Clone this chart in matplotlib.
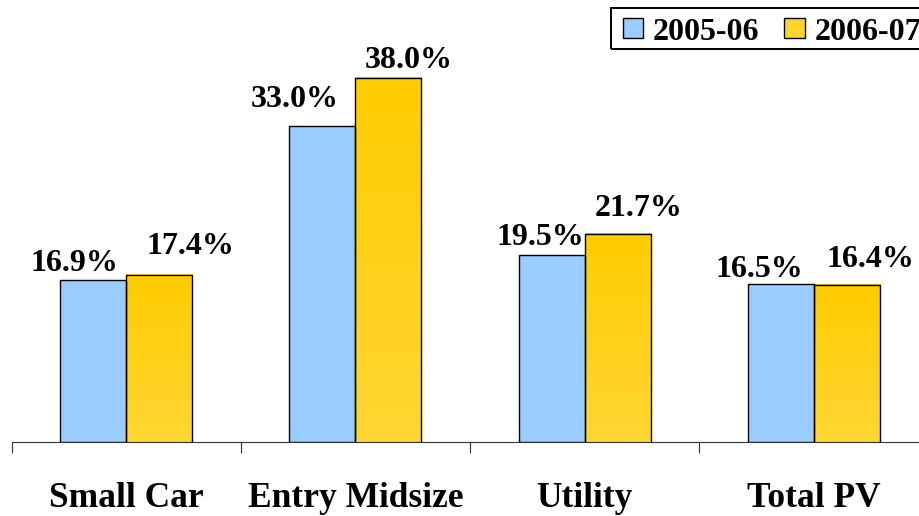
import numpy as np
import matplotlib
matplotlib.use('Agg')
import matplotlib.pyplot as plt
from matplotlib.colors import LinearSegmentedColormap
from matplotlib.patches import Patch, Rectangle

categories = ['Small Car', 'Entry Midsize', 'Utility', 'Total PV']
series_names = ['2005-06', '2006-07']
share_2005_06 = [16.9, 33.0, 19.5, 16.5]
share_2006_07 = [17.4, 38.0, 21.7, 16.4]

# value-label placement in pixels (dx, dy) from the top centre of each bar
label_offsets_a = [(-18.5, 9), (-28, 19), (-11.5, 10), (-21.5, 7)]
label_offsets_b = [(31.5, 21), (20, 10), (21, 18), (23.5, 18)]

BLUE = '#99CCFF'
GOLD_TOP = '#FFCC00'
GOLD_BOTTOM = '#FFD633'
AXIS_GREY = '#333333'
FONT = 'Liberation Serif'
W, H = 920, 516

fig = plt.figure(figsize=(W / 100, H / 100), dpi=100)
ax = fig.add_axes([11.5 / W, 74.5 / H, 917.2 / W, 430.5 / H])

x = np.arange(len(categories))
w = 0.288

bars_a = ax.bar(x - w / 2, share_2005_06, w, color=BLUE, edgecolor='black',
                linewidth=1.0, zorder=3)
bars_b = ax.bar(x + w / 2, share_2006_07, w, facecolor='none', edgecolor='black',
                linewidth=1.0, zorder=4)

# vertical gold gradient inside the 2006-07 bars
cmap = LinearSegmentedColormap.from_list('gold', [GOLD_BOTTOM, GOLD_TOP])
grad = np.linspace(0, 1, 256).reshape(-1, 1)
for b in bars_b:
    x0, h = b.get_x(), b.get_height()
    ax.imshow(grad, extent=[x0, x0 + b.get_width(), 0, h], origin='lower',
              cmap=cmap, aspect='auto', zorder=2, interpolation='bilinear')

ax.set_xlim(-0.5, len(categories) - 0.5)
ax.set_ylim(0, 45)

for side in ('left', 'top', 'right'):
    ax.spines[side].set_visible(False)
ax.spines['bottom'].set_color(AXIS_GREY)
ax.spines['bottom'].set_linewidth(0.8)
ax.set_yticks([])
ax.set_xticks(np.arange(len(categories) + 1) - 0.5)
ax.set_xticklabels([])
ax.tick_params(axis='x', direction='out', length=8, width=0.8, color=AXIS_GREY)

label_font = dict(family=FONT, weight='bold')

for xi, name in zip(x, categories):
    ax.annotate(name, (xi, 0), xycoords=('data', 'axes fraction'),
                xytext=(0, -65.5), textcoords='offset pixels',
                ha='center', va='baseline', fontsize=25.5, **label_font)

for bars, vals, offs in ((bars_a, share_2005_06, label_offsets_a),
                         (bars_b, share_2006_07, label_offsets_b)):
    for b, v, (dx, dy) in zip(bars, vals, offs):
        ax.annotate(f'{v:.1f}%', (b.get_x() + b.get_width() / 2, v),
                    xytext=(dx, dy), textcoords='offset pixels',
                    ha='center', va='baseline', fontsize=23, **label_font)

# legend: entries without frame, plus a tight rectangular border
handles = [Patch(facecolor=BLUE, edgecolor='black', linewidth=1.0),
           Patch(facecolor='#FFD42A', edgecolor='black', linewidth=1.0)]
leg = fig.legend(handles, series_names, loc='upper left',
                 bbox_to_anchor=(623 / W, 1 - 17.5 / H), ncol=2,
                 frameon=False,
                 prop=dict(family=FONT, weight='bold', size=23),
                 handlelength=0.63, handleheight=0.56, handletextpad=0.31,
                 columnspacing=0.78, borderpad=0, borderaxespad=0)
fig.add_artist(Rectangle((611 / W, 1 - 49 / H), (940 - 611) / W, 41 / H,
                         transform=fig.transFigure, fill=False,
                         edgecolor='black', linewidth=1.4))

fig.savefig('out.png', dpi=100)
